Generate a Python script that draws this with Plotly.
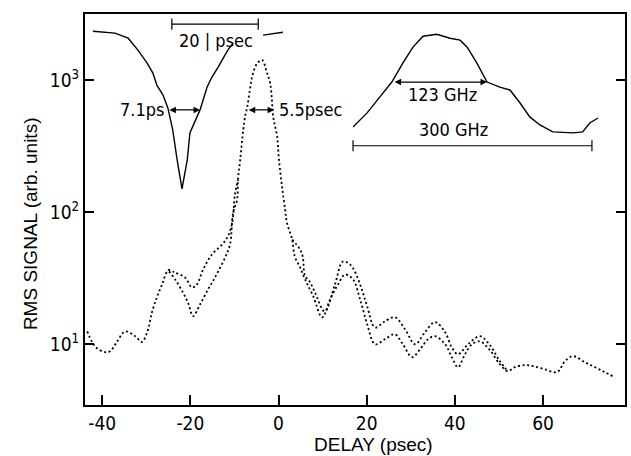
import math
import plotly.graph_objects as go

# ---- data ----
# lower dotted trace (full)
B_x = [-43.4,-42.3,-41.2,-39.3,-38.2,-36.6,-34.8,-32.5,-31.0,-29.8,-28.7,-27.6,-26.4,-25.1,
       -23.5,-21.7,-20.5,-19.4,-17.8,-16.0,-14.9,-13.7,-12.1,-11.0,-10.3,-9.4,-9.2,-8.7,-8.0,
       -7.6,-7.1,-6.5,-6.0,-5.3,-4.6,-3.7,-2.6,-1.9,-1.5,-1.2,-0.3,0.1,0.8,1.5,1.9,3.1,3.7,
       4.9,6.0,7.8,9.9,11.7,13.5,15.1,16.9,18.5,20.1,21.9,24.1,26.4,28.2,30.3,32.1,33.9,35.5,
       37.8,39.3,40.7,42.3,43.9,45.7,47.8,50.2,52.0,53.6,55.9,57.7,60.4,63.2,65.0,66.8,69.5,
       71.8,74.0,75.8]
B_y = [12.5,10.4,9.33,8.71,8.85,10.5,12.5,11.5,10.4,12.3,17.5,22.6,28.4,35.6,
       31.0,24.7,20.5,16.3,20.0,26.0,29.9,35.6,45.4,56.9,99.2,124,176,249,420,
       526,625,841,1054,1254,1367,1415,1129,949,706,526,371,249,156,104,83.4,62.0,46.1,
       38.1,31.0,23.4,16.0,21.9,28.4,33.7,31.0,21.9,14.2,10.0,10.9,11.9,10.0,7.98,9.16,10.9,11.5,
       10.0,7.98,6.70,8.41,10.0,10.5,9.16,7.07,6.25,6.70,6.95,6.83,6.47,6.15,7.45,8.12,7.31,
       6.70,6.15,5.73]

# upper dotted trace (only where it departs from the lower one)
A_x = [-25.1,-23.5,-21.2,-19.6,-18.5,-17.1,-15.1,-12.8,-11.5,-10.5,-9.9,-9.2, None,
       3.1,4.9,5.5,6.0,7.0,8.2,10.5,12.8,14.6,16.2,17.3,18.9,20.1,21.9,24.1,26.4,28.7,31.0,
       33.2,35.5,37.8,39.3,40.7,43.0,45.7,47.8,50.2,52.0]
A_y = [36.8,34.9,32.0,26.9,28.4,36.8,47.8,56.9,65.3,83.4,135,176, None,
       62.0,52.1,46,33,30,25,17.7,28.4,42.3,40.2,35.6,26.0,19.4,13.4,14.9,16.0,13.0,10.0,
       12.3,14.7,12.3,9.48,8.41,10.0,11.5,10.0,7.45,6.25]

# inset: autocorrelation dip (solid)
L_x = [-42.1,-37.1,-34.1,-31.9,-29.8,-28.5,-27.6,-26.2,-25.1,-24.0,-23.0,-21.9,-20.7,-20.1,
       -18.5,-17.8,-16.2,-15.1,-13.7,-12.6,-11.5,-10.3, None, -3.5, 1.0]
L_y = [2344,2265,2074,1683,1343,1129,916,770,615,420,249,150,249,398,
       526,594,885,1054,1254,1466,1683,1901, None, 2188, 2303]

# inset: spectrum (solid)
R_x = [16.9,20.1,23.0,25.7,28.2,30.5,32.8,35.9,38.9,41.2,42.8,45.0,47.3,50.2,52.5,54.8,57.0,
       59.3,62.2,66.8,69.0,70.6,72.5]
R_y = [441,564,745,966,1343,1775,2148,2223,2074,2004,1775,1343,966,885,841,670,526,
       457,405,398,405,473,516]

x_ticks = [-40, -20, 0, 20, 40, 60]
x_tick_text = ["-40", "-20", "0", "20", "40", "60"]
y_ticks = [10, 100, 1000]
y_tick_text = ["10<sup>1</sup>", "10<sup>2</sup>", "10<sup>3</sup>"]

# scale bars / width markers: (x0, x1, y)
bar_20ps = (-24.2, -4.6, 2650)
bar_300ghz = (16.9, 71.1, 318)
arrow_71 = (-25.1, -17.8, 594)
arrow_55 = (-7.1, -1.0, 594)
arrow_123 = (26.0, 47.3, 966)

NARROW = "DejaVu Sans Condensed, Liberation Sans Narrow, sans-serif"
SANS = "Liberation Sans, Arial, sans-serif"

fig = go.Figure()
dot = dict(color="black", width=1.8, dash="2px,2.6px")
fig.add_trace(go.Scatter(x=B_x, y=B_y, mode="lines", line=dot, line_shape="spline",
                         hoverinfo="skip"))
fig.add_trace(go.Scatter(x=A_x, y=A_y, mode="lines", line=dot, line_shape="spline",
                         connectgaps=False, hoverinfo="skip"))
solid = dict(color="black", width=1.4)
fig.add_trace(go.Scatter(x=L_x, y=L_y, mode="lines", line=solid, connectgaps=False,
                         hoverinfo="skip"))
fig.add_trace(go.Scatter(x=R_x, y=R_y, mode="lines", line=solid, hoverinfo="skip"))

# scale bars with end ticks
for (x0, x1, yv) in (bar_20ps, bar_300ghz):
    fig.add_trace(go.Scatter(x=[x0, x1], y=[yv, yv], mode="lines+markers",
                             line=dict(color="black", width=1.2),
                             marker=dict(symbol="line-ns", size=8,
                                         line=dict(color="black", width=1.2)),
                             hoverinfo="skip"))

annotations = []
# double arrows
for (x0, x1, yv) in (arrow_71, arrow_55, arrow_123):
    annotations.append(dict(x=x1, y=math.log10(yv), ax=x0, ay=math.log10(yv),
                            xref="x", yref="y", axref="x", ayref="y", text="",
                            showarrow=True, arrowhead=2, arrowside="end+start",
                            arrowsize=1.0, arrowwidth=1.3, arrowcolor="black",
                            standoff=0, startstandoff=0))

def label(txt, x, yv, xanchor="center", size=18, font=NARROW):
    annotations.append(dict(x=x, y=math.log10(yv), xref="x", yref="y", text=txt,
                            showarrow=False, xanchor=xanchor, yanchor="middle",
                            font=dict(family=font, size=size, color="black")))

label("20 | psec", -14.2, 2004)
label("7.1ps", -25.6, 594, xanchor="right")
label("5.5psec", -0.4, 594, xanchor="left")
label("123 GHz", 37.1, 771)
label("300 GHz", 39.6, 420)

# axis titles
annotations.append(dict(x=-0.102, y=0.465, xref="paper", yref="paper",
                        text="RMS SIGNAL (arb. units)", textangle=-90, showarrow=False,
                        xanchor="center", yanchor="middle",
                        font=dict(family=SANS, size=19, color="black")))
annotations.append(dict(x=0.534, y=-0.13, xref="paper", yref="paper",
                        text="DELAY (psec)", showarrow=False,
                        xanchor="center", yanchor="bottom", borderpad=0,
                        font=dict(family=SANS, size=19, color="black")))

fig.update_layout(
    width=631, height=456,
    margin=dict(l=85, r=6, t=14, b=51),
    paper_bgcolor="white", plot_bgcolor="white",
    showlegend=False,
    annotations=annotations,
    xaxis=dict(range=[-43.9, 78.6], tickvals=x_ticks, ticktext=x_tick_text,
               ticks="inside", ticklen=10, tickwidth=1.5, tickcolor="black",
               showline=True, linecolor="black", linewidth=2, mirror=True,
               showgrid=False, zeroline=False, automargin=False,
               tickfont=dict(family=NARROW, size=19, color="black")),
    yaxis=dict(type="log", range=[0.54, 3.50], tickvals=y_ticks, ticktext=y_tick_text,
               ticks="inside", ticklen=9, tickwidth=1.5, tickcolor="black",
               showline=True, linecolor="black", linewidth=2, mirror="ticks",
               showgrid=False, zeroline=False, automargin=False,
               tickfont=dict(family=NARROW, size=19, color="black")),
)

fig.write_html("out.html", config={"displayModeBar": False},
               post_script="document.body.style.margin='0';document.body.style.padding='0';")
